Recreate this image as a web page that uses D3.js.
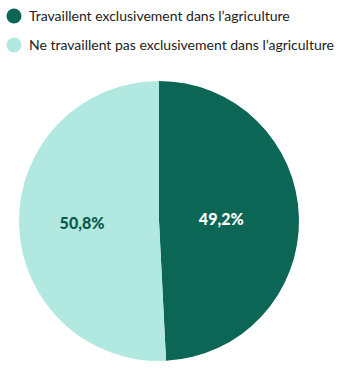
<!DOCTYPE html>
<html>
<head>
<meta charset="utf-8">
<script src="https://cdn.jsdelivr.net/npm/d3@7"></script>
<style>
  html, body { margin: 0; padding: 0; background: #fff; }
  svg { display: block; }
</style>
</head>
<body>
<svg id="chart" width="337" height="368"></svg>
<script>
const categories = ["Travaillent exclusivement dans l\u2019agriculture", "Ne travaillent pas exclusivement dans l\u2019agriculture"];
const values = [49.2, 50.8];
const colors = ["#0b6655", "#b1e8e0"];
const labelColors = ["#ffffff", "#0b5a4b"];

const svg = d3.select("#chart");
const font = "Lato, 'Open Sans', sans-serif";

// Legend
const legend = svg.append("g");
categories.forEach((c, i) => {
  const g = legend.append("g").attr("transform", `translate(14, ${16 + i * 29})`);
  g.append("circle").attr("r", 7.5).attr("fill", colors[i]);
  g.append("text")
    .attr("x", 15).attr("dy", "0.36em")
    .attr("font-family", font).attr("font-size", 14)
    .attr("fill", "#222")
    .text(c);
});

// Pie
const cx = 159, cy = 221, r = 140;
const pie = d3.pie().sort(null).value(d => d)(values);
const arc = d3.arc().innerRadius(0).outerRadius(r);
const labelRadius = [r * 0.445, r * 0.55];

const g = svg.append("g").attr("transform", `translate(${cx},${cy})`);
g.selectAll("path").data(pie).join("path")
  .attr("d", arc)
  .attr("fill", (d, i) => colors[i]);

g.selectAll("text").data(pie).join("text")
  .attr("transform", (d, i) => {
    const la = d3.arc().innerRadius(labelRadius[i]).outerRadius(labelRadius[i]);
    return `translate(${la.centroid(d)})`;
  })
  .attr("text-anchor", "middle")
  .attr("dy", "0.36em")
  .attr("font-family", font).attr("font-weight", 900).attr("font-size", 16)
  .attr("fill", (d, i) => labelColors[i])
  .text(d => d3.format(".1f")(d.data).replace(".", ",") + "%");
</script>
</body>
</html>
